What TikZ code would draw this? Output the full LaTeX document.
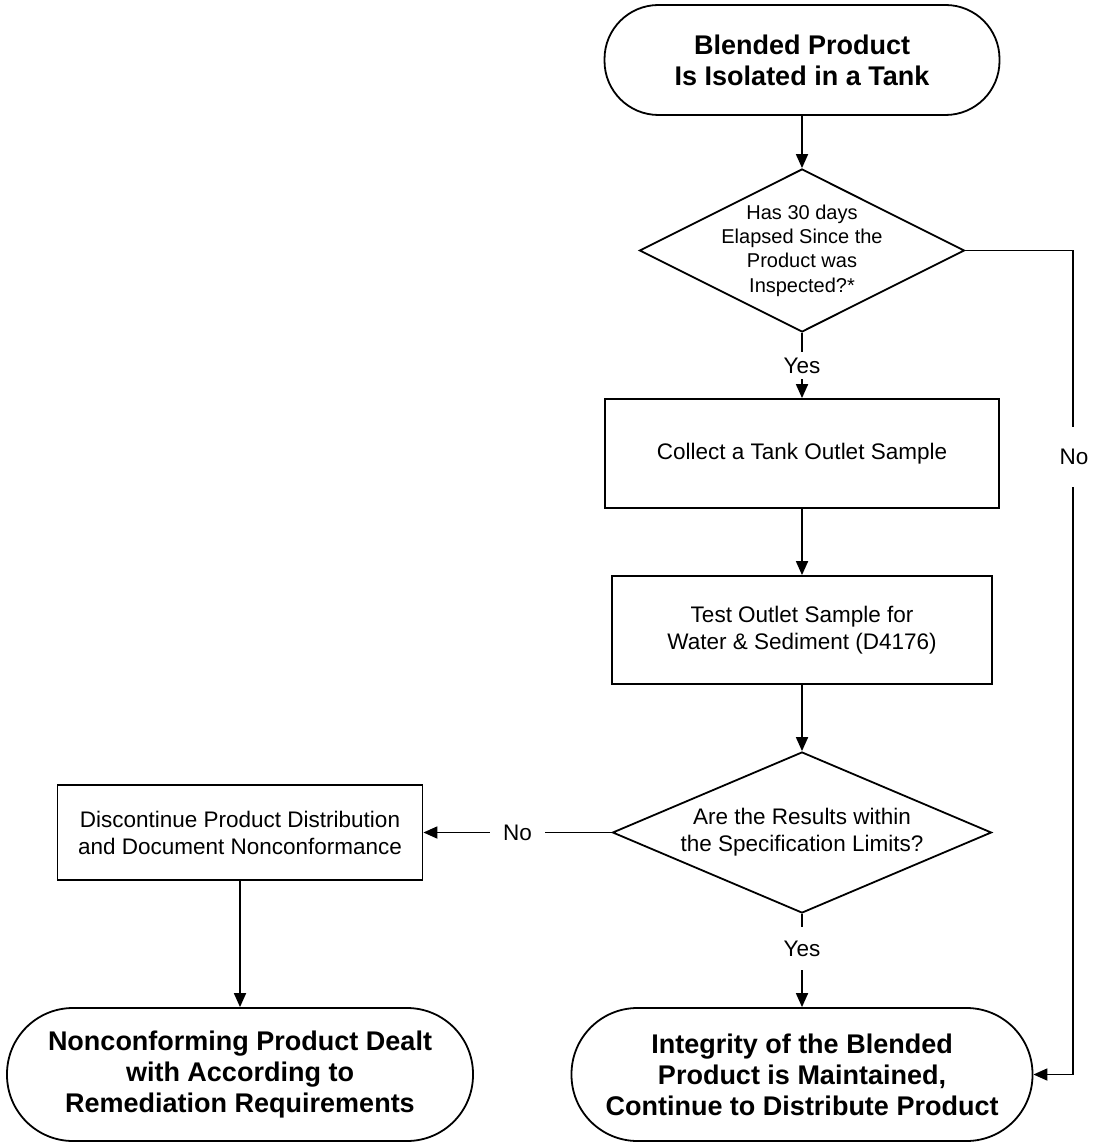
\documentclass[tikz,border=0pt]{standalone}
\usepackage{fontspec}
\setmainfont{Liberation Sans}
\usetikzlibrary{shapes.geometric,arrows.meta}
\begin{document}
\begin{tikzpicture}[x=0.5pt,y=-0.5pt,
  base/.style={draw=black, line width=0.9pt, inner sep=0pt, align=center},
  term/.style={base, rectangle, font=\fontsize{13.5pt}{15.5pt}\selectfont\bfseries},
  proc/.style={base, rectangle, font=\fontsize{11.25pt}{13.5pt}\selectfont},
  dec/.style={base, diamond},
  txt/.style={align=center, inner sep=0pt},
  arr/.style={-{Triangle[length=7pt,width=6pt]}, line width=0.9pt},
  lab/.style={fill=white, font=\fontsize{11.25pt}{13.5pt}\selectfont, inner sep=0pt}
]
\useasboundingbox (0,0) rectangle (1092,1143);

\node[term, rounded corners=27pt, minimum width=197.5pt, minimum height=55pt] (t1) at (802,60) {Blended Product\\Is Isolated in a Tank};
\node[dec, minimum width=162.5pt, minimum height=81.5pt] (d1) at (802,250.5) {};
\node[txt, font=\fontsize{10pt}{12.2pt}\selectfont] (d1t) at (d1) {Has 30 days\\Elapsed Since the\\Product was\\Inspected?*};
\node[proc, minimum width=197pt, minimum height=54.5pt] (r1) at (802,453.5) {Collect a Tank Outlet Sample};
\node[proc, minimum width=190pt, minimum height=54pt] (r2) at (802,630) {Test Outlet Sample for\\Water \& Sediment (D4176)};
\node[dec, minimum width=189.5pt, minimum height=80.5pt] (d2) at (802,832.5) {};
\node[txt, font=\fontsize{11.25pt}{13.5pt}\selectfont] (d2t) at (d2) {Are the Results within\\the Specification Limits?};
\node[proc, minimum width=182.5pt, minimum height=47.5pt] (lr) at (240,832.5) {Discontinue Product Distribution\\and Document Nonconformance};
\node[term, rounded corners=33pt, minimum width=233pt, minimum height=66.5pt] (t2) at (240,1074.5) {Nonconforming Product Dealt\\with According to\\Remediation Requirements};
\node[term, rounded corners=33pt, minimum width=230.5pt, minimum height=66.5pt] (t3) at (802,1074.5) {Integrity of the Blended\\Product is Maintained,\\Continue to Distribute Product};

\draw[arr] (t1.south) -- (d1.north);
\draw[arr] (d1.south) -- node[lab, inner ysep=3pt, inner xsep=2pt]{Yes} (r1.north);
\draw[arr] (r1.south) -- (r2.north);
\draw[arr] (r2.south) -- (d2.north);
\draw[arr] (d2.south) -- node[lab, pos=0.37, inner ysep=7pt, inner xsep=2pt]{Yes} (t3.north);
\draw[arr] (d2.west) -- node[lab, inner xsep=6.5pt, inner ysep=2pt]{No} (lr.east);
\draw[arr] (lr.south) -- (t2.north);
\coordinate (rc) at (1073,250.5);
\draw[arr] (d1.east) -- (rc) |- (t3.east);
\node[lab, inner ysep=11pt, inner xsep=1pt] (nolab) at (1074,457) {No};
\end{tikzpicture}
\end{document}
